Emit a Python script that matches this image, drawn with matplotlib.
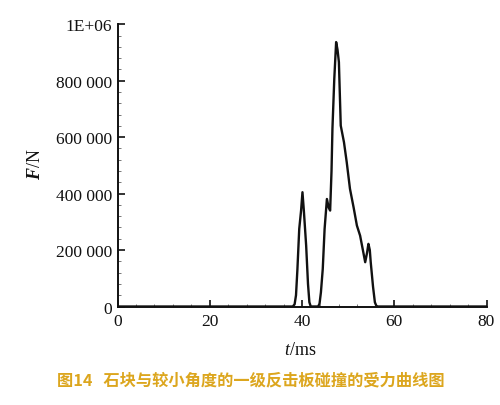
import matplotlib
matplotlib.use("Agg")
import matplotlib.pyplot as plt
from matplotlib.ticker import MultipleLocator

# Data
t_ms = [0, 10, 20, 30, 38.0, 38.4, 38.7, 39.0, 39.4, 39.8, 40.1, 40.4, 40.9, 41.3, 41.6, 41.9,
        43.5, 43.8, 44.1, 44.5, 44.9, 45.4, 45.8, 46.1, 46.4, 46.6, 47.0, 47.4, 47.7,
        48.0, 48.4, 49.1, 49.7, 50.4, 51.2, 51.9, 52.6, 53.2, 53.7, 54.1, 54.4,
        54.7, 54.9, 55.4, 55.8, 56.1, 56.4, 60, 70, 80]
force_N = [0, 0, 0, 0, 0, 8000, 40000, 130000, 275000, 340000, 405000, 340000, 216000, 80000, 15000, 0,
           0, 10000, 50000, 133000, 275000, 381000, 350000, 340000, 480000, 630000, 807000, 937000, 910000,
           866000, 641000, 582000, 511000, 417000, 350000, 287000, 251000, 200000, 157000, 190000, 222000,
           200000, 157000, 70000, 15000, 3000, 0, 0, 0, 0]

x_ticks = [0, 20, 40, 60, 80]
y_ticks = [0, 200000, 400000, 600000, 800000, 1000000]
y_tick_labels = ["0", "200 000", "400 000", "600 000", "800 000", "1E+06"]
caption = "图14   石块与较小角度的一级反击板碰撞的受力曲线图"

plt.rcParams["font.family"] = ["Liberation Serif", "DejaVu Serif"]
plt.rcParams["mathtext.fontset"] = "custom"
plt.rcParams["mathtext.rm"] = "Liberation Serif"
plt.rcParams["mathtext.it"] = "Liberation Serif:italic"
plt.rcParams["mathtext.bf"] = "Liberation Serif:bold"
plt.rcParams["mathtext.bfit"] = "Liberation Serif:bold:italic"

fig = plt.figure(figsize=(5.0, 4.06), dpi=100)
ax = fig.add_axes([0.235, 0.2426, 0.738, 0.6951])

ax.plot(t_ms, force_N, color="#111111", lw=1.7, solid_joinstyle="round")

ax.set_xlim(0, 80)
ax.set_ylim(0, 1000000)
ax.set_xticks(x_ticks)
ax.set_xticklabels([str(v) for v in x_ticks])
ax.set_yticks(y_ticks)
ax.set_yticklabels(y_tick_labels)
ax.xaxis.set_minor_locator(MultipleLocator(4))
ax.yaxis.set_minor_locator(MultipleLocator(40000))

for s in ("top", "right"):
    ax.spines[s].set_visible(False)
for s in ("left", "bottom"):
    ax.spines[s].set_linewidth(1.4)
    ax.spines[s].set_color("#111111")

ax.tick_params(axis="both", which="major", direction="in", length=5, width=1.2,
               labelsize=12.5, colors="#111111")
ax.tick_params(axis="both", which="minor", direction="in", length=2, width=0.7,
               colors="#777777")
ax.tick_params(axis="y", which="major", pad=4)
ax.tick_params(axis="x", which="major", pad=5)

fig.text(0.072, 0.595, r"$\mathbfit{F}$/N", rotation=90, ha="center", va="center",
         fontsize=13, color="#111111")
fig.text(0.60, 0.137, r"$\mathit{t}$/ms", ha="center", va="center",
         fontsize=13, color="#111111")
fig.text(0.502, 0.064, caption, ha="center", va="center", fontsize=11.7,
         fontweight="bold", color="#dca61e",
         family=["Noto Sans CJK SC", "DejaVu Sans"])

fig.savefig("out.png", dpi=100)
